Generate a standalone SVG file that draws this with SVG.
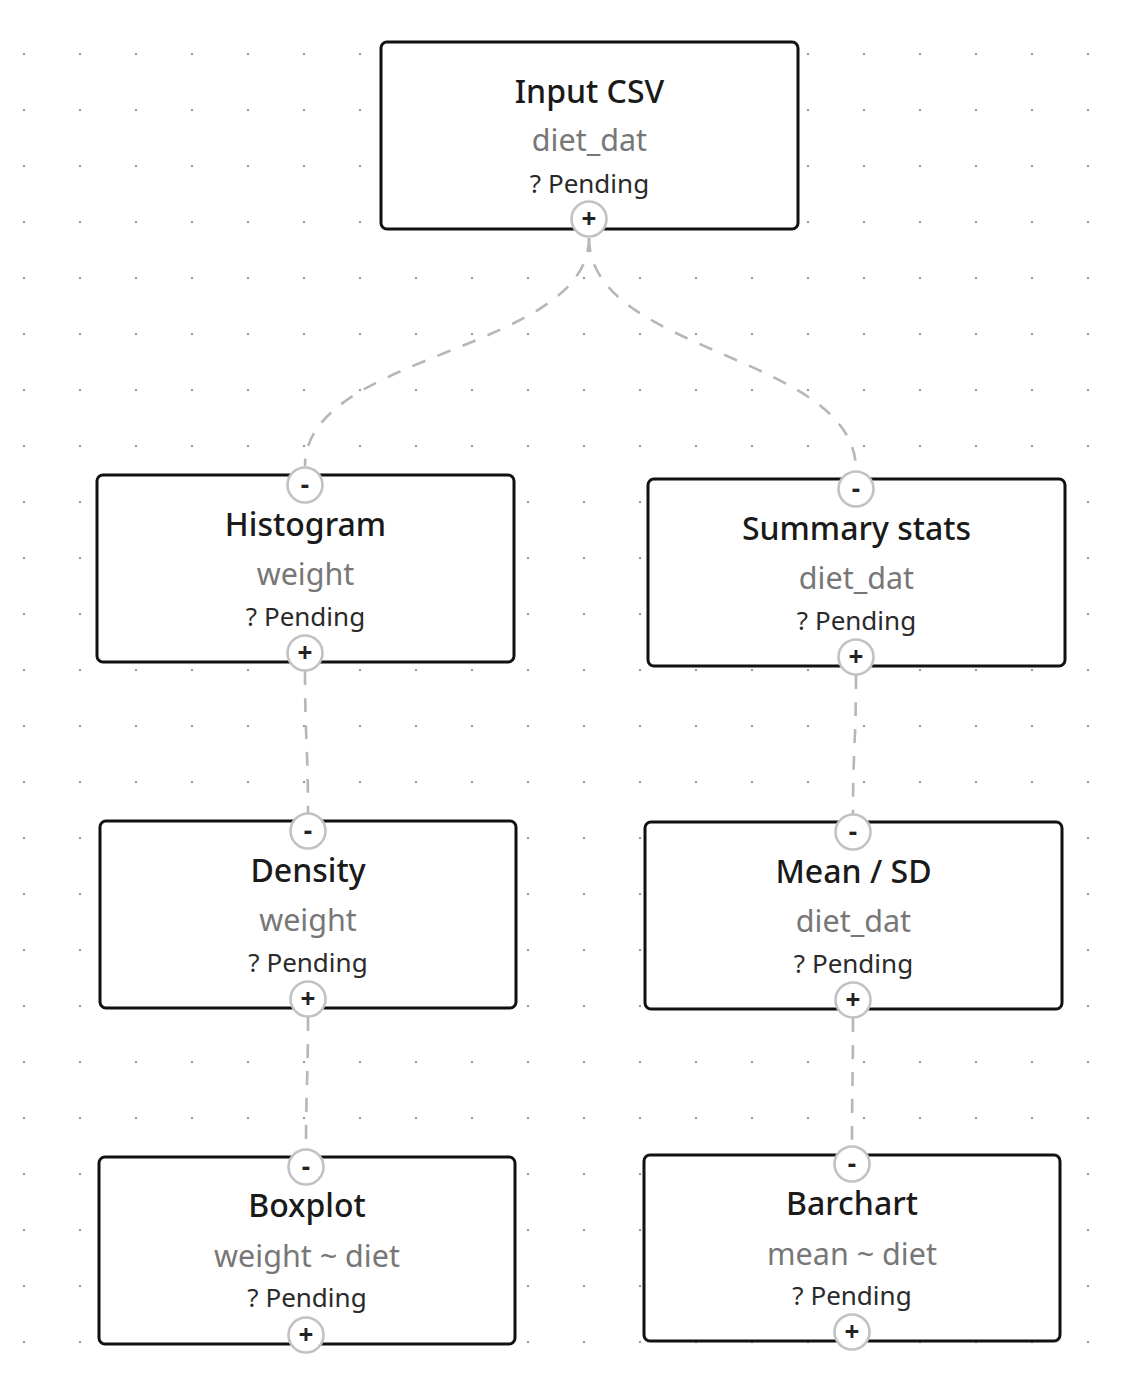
<svg xmlns="http://www.w3.org/2000/svg" width="1124" height="1394" viewBox="0 0 1124 1394">
<style>
.node rect.box{fill:#ffffff;stroke:#111111;stroke-width:3}
.title{font-family:"Noto Sans","Open Sans",sans-serif;font-size:32px;font-weight:500;fill:#1a1a1a;text-anchor:middle}
.sub{font-family:"Noto Sans","Open Sans",sans-serif;font-size:30.5px;fill:#777777;text-anchor:middle}
.status{font-family:"Noto Sans","Open Sans",sans-serif;font-size:26px;fill:#2a2a2a;text-anchor:middle}
.handle circle{fill:#ffffff;stroke:#c2c2c2;stroke-width:2.6}
.handle text{font-family:"Noto Sans","Open Sans",sans-serif;font-size:26px;font-weight:700;fill:#222222;text-anchor:middle}
.edge{fill:none;stroke:#b6b6bc;stroke-width:2.6;stroke-dasharray:14 13}
</style>
<defs>
<pattern id="dots" x="-4" y="26" width="56" height="56" patternUnits="userSpaceOnUse">
<circle cx="28" cy="28" r="1.2" fill="#9a9aa3"/>
</pattern>
</defs>
<rect x="0" y="0" width="1124" height="1394" fill="#ffffff"/>
<rect x="0" y="0" width="1124" height="1394" fill="url(#dots)"/>

<g id="connectors">
<path class="edge" d="M589,238 C589,352 305,352 305,466"/>
<path class="edge" d="M589,238 C589,354 856,354 856,470"/>
<path class="edge" d="M305,671 C305,742 308,742 308,813"/>
<path class="edge" d="M856,675 C856,745 853,745 853,814"/>
<path class="edge" d="M308,1017 C308,1083 306,1083 306,1149"/>
<path class="edge" d="M853,1018 C853,1082 852,1082 852,1146"/>
</g>

<g id="node-input" class="node">
<rect class="box" x="381" y="42" width="417" height="187" rx="6"/>
<text class="title" x="589.5" y="103">Input CSV</text>
<text class="sub" x="589.5" y="151">diet_dat</text>
<text class="status" x="589.5" y="193">? Pending</text>
<g class="handle"><circle cx="589" cy="219" r="17.5"/><text x="589" y="228">+</text></g>
</g>

<g id="node-histogram" class="node">
<rect class="box" x="97" y="475" width="417" height="187" rx="6"/>
<text class="title" x="305.5" y="536">Histogram</text>
<text class="sub" x="305.5" y="585">weight</text>
<text class="status" x="305.5" y="626">? Pending</text>
<g class="handle"><circle cx="305" cy="485" r="17.5"/><text x="305" y="494">-</text></g>
<g class="handle"><circle cx="305" cy="653" r="17.5"/><text x="305" y="662">+</text></g>
</g>

<g id="node-summary" class="node">
<rect class="box" x="648" y="479" width="417" height="187" rx="6"/>
<text class="title" x="856.5" y="540">Summary stats</text>
<text class="sub" x="856.5" y="589">diet_dat</text>
<text class="status" x="856.5" y="630">? Pending</text>
<g class="handle"><circle cx="856" cy="489" r="17.5"/><text x="856" y="498">-</text></g>
<g class="handle"><circle cx="856" cy="657" r="17.5"/><text x="856" y="666">+</text></g>
</g>

<g id="node-density" class="node">
<rect class="box" x="100" y="821" width="416" height="187" rx="6"/>
<text class="title" x="308" y="882">Density</text>
<text class="sub" x="308" y="931">weight</text>
<text class="status" x="308" y="972">? Pending</text>
<g class="handle"><circle cx="308" cy="831" r="17.5"/><text x="308" y="840">-</text></g>
<g class="handle"><circle cx="308" cy="999" r="17.5"/><text x="308" y="1008">+</text></g>
</g>

<g id="node-meansd" class="node">
<rect class="box" x="645" y="822" width="417" height="187" rx="6"/>
<text class="title" x="853.5" y="883">Mean / SD</text>
<text class="sub" x="853.5" y="932">diet_dat</text>
<text class="status" x="853.5" y="973">? Pending</text>
<g class="handle"><circle cx="853" cy="832" r="17.5"/><text x="853" y="841">-</text></g>
<g class="handle"><circle cx="853" cy="1000" r="17.5"/><text x="853" y="1009">+</text></g>
</g>

<g id="node-boxplot" class="node">
<rect class="box" x="99" y="1157" width="416" height="187" rx="6"/>
<text class="title" x="307" y="1217">Boxplot</text>
<text class="sub" x="307" y="1267">weight ~ diet</text>
<text class="status" x="307" y="1307">? Pending</text>
<g class="handle"><circle cx="306" cy="1167" r="17.5"/><text x="306" y="1176">-</text></g>
<g class="handle"><circle cx="306" cy="1335" r="17.5"/><text x="306" y="1344">+</text></g>
</g>

<g id="node-barchart" class="node">
<rect class="box" x="644" y="1155" width="416" height="186" rx="6"/>
<text class="title" x="852" y="1215">Barchart</text>
<text class="sub" x="852" y="1265">mean ~ diet</text>
<text class="status" x="852" y="1305">? Pending</text>
<g class="handle"><circle cx="852" cy="1164" r="17.5"/><text x="852" y="1173">-</text></g>
<g class="handle"><circle cx="852" cy="1332" r="17.5"/><text x="852" y="1341">+</text></g>
</g>
</svg>
